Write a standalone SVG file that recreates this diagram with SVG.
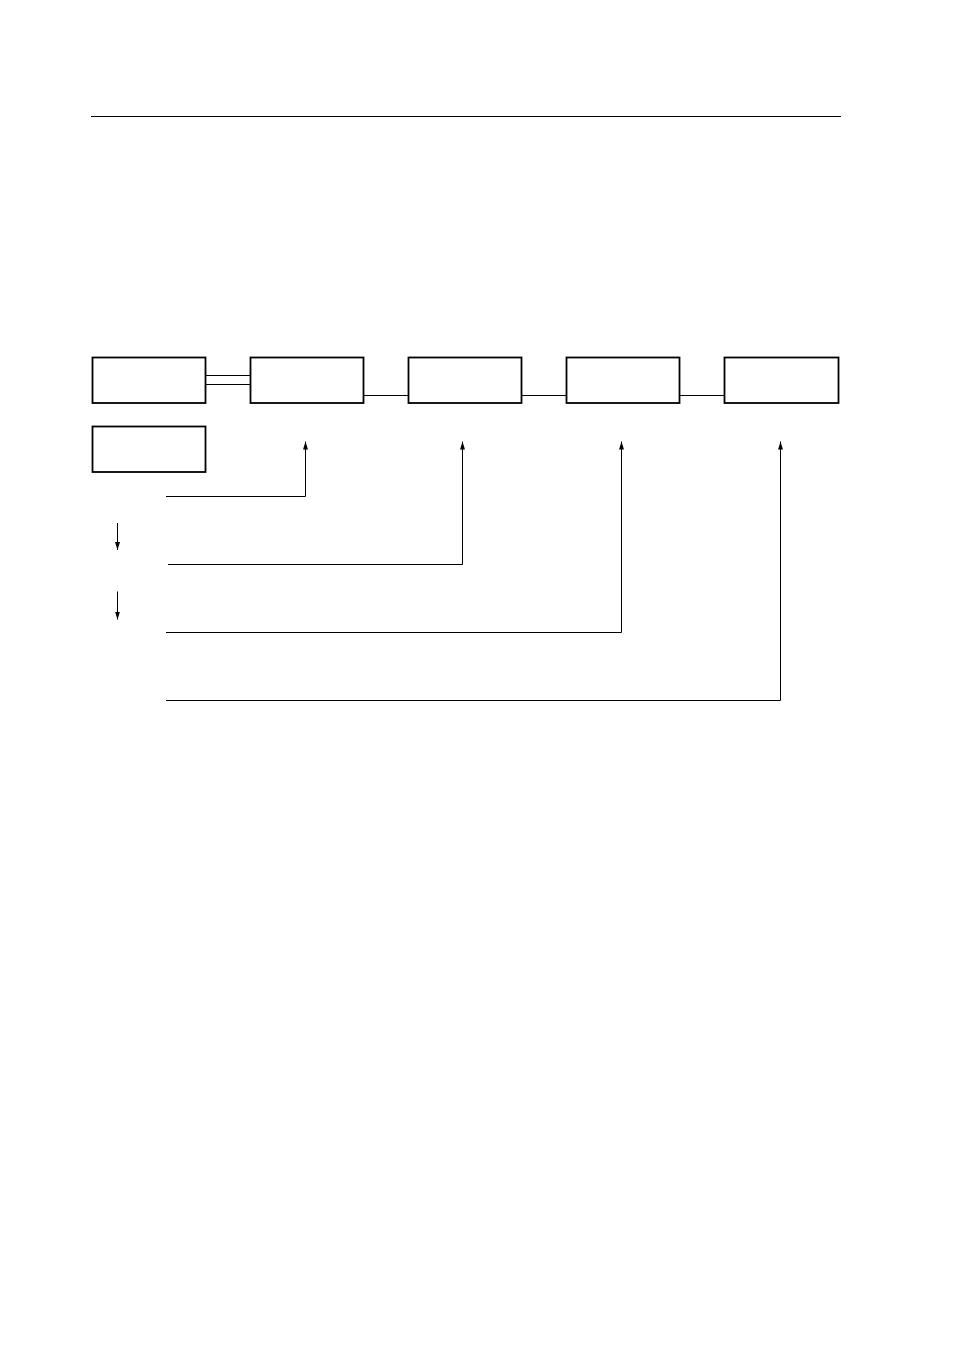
<svg xmlns="http://www.w3.org/2000/svg" width="954" height="1351" viewBox="0 0 954 1351">
<style>
.box{fill:#fff;stroke:#000;stroke-width:1.8}
.ln{fill:none;stroke:#000;stroke-width:1}
.arr{fill:none;stroke:#000;stroke-width:1;marker-end:url(#ah)}
</style>
<defs>
<marker id="ah" markerWidth="8" markerHeight="5" refX="8" refY="2.5" orient="auto" markerUnits="userSpaceOnUse" viewBox="0 0 8 5">
<path d="M0,0 L8,2.5 L0,5 Z" fill="#000"/>
</marker>
</defs>
<rect width="954" height="1351" fill="#fff"/>
<line x1="91" y1="116.5" x2="841" y2="116.5" stroke="#000" stroke-width="1.2"/>
<g id="connectors">
<line class="ln" x1="205.5" y1="375.5" x2="250.5" y2="375.5"/>
<line class="ln" x1="205.5" y1="384.5" x2="250.5" y2="384.5"/>
<line class="ln" x1="363.5" y1="395.5" x2="408.5" y2="395.5"/>
<line class="ln" x1="521.5" y1="395.5" x2="566" y2="395.5"/>
<line class="ln" x1="679.5" y1="395.5" x2="724.5" y2="395.5"/>
<path class="arr" d="M166,496.5 H305.5 V441.5"/>
<path class="arr" d="M168,564.5 H462.5 V441.5"/>
<path class="arr" d="M166,632.5 H621.5 V441.5"/>
<path class="arr" d="M166,700.5 H780.5 V441.5"/>
<path class="arr" d="M117.5,523 V550"/>
<path class="arr" d="M117.5,591.5 V619.5"/>
</g>
<g id="n1"><rect class="box" x="92.5" y="357.5" width="113" height="45.5"/></g>
<g id="n2"><rect class="box" x="250.5" y="357.5" width="113" height="45.5"/></g>
<g id="n3"><rect class="box" x="408.5" y="357.5" width="113" height="45.5"/></g>
<g id="n4"><rect class="box" x="566.5" y="357.5" width="113" height="45.5"/></g>
<g id="n5"><rect class="box" x="724.5" y="357.5" width="114" height="45.5"/></g>
<g id="n6"><rect class="box" x="92.5" y="426.5" width="113" height="45.5"/></g>
</svg>
